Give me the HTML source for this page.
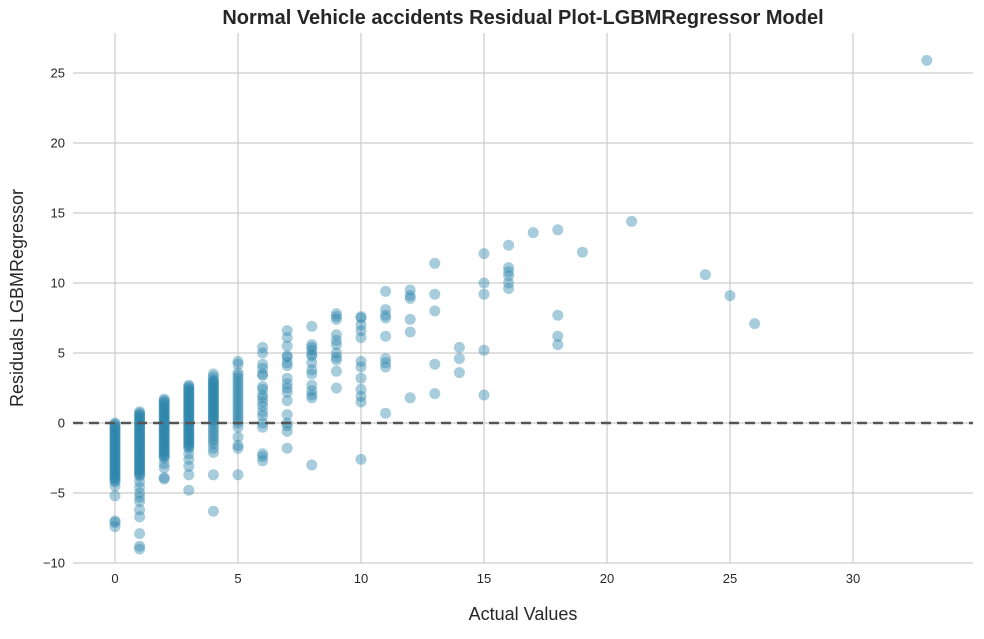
<!DOCTYPE html>
<html><head><meta charset="utf-8"><style>
body{margin:0;background:#fff;font-family:"Liberation Sans",Arial,sans-serif}
svg text{font-family:"Liberation Sans",Arial,sans-serif}
</style></head><body>
<svg id="chart" width="984" height="634" viewBox="0 0 984 634" xmlns="http://www.w3.org/2000/svg">
<text x="523" y="24" text-anchor="middle" font-size="20" font-weight="bold" fill="#262626">Normal Vehicle accidents Residual Plot-LGBMRegressor Model</text>
<g id="grid"></g>
<g id="points"></g>
<g id="axes"></g>
<text x="523" y="620" text-anchor="middle" font-size="18" fill="#262626">Actual Values</text>
<text transform="translate(23,298) rotate(-90)" text-anchor="middle" font-size="18" fill="#262626">Residuals LGBMRegressor</text>
</svg>
<script>
const xTicks=[0,5,10,15,20,25,30];
const yTicks=[-10,-5,0,5,10,15,20,25];
const yTickLabels=["\u221210","\u22125","0","5","10","15","20","25"];
const col0=[0,-0.1,-0.2,-0.3,-0.4,-0.5,-0.6,-0.7,-0.8,-0.9,-1,-1.1,-1.2,-1.3,-1.4,-1.5,-1.6,-1.7,-1.8,-1.9,-2,-2.1,-2.2,-2.3,-2.4,-2.5,-2.6,-2.7,-2.8,-2.9,-3,-3.1,-3.2,-3.3,-3.4,-3.5,-3.6,-3.7,-3.8,-3.9,-4,-4.1,-4.2,-4.5,-5.2,-7,-7.1,-7.4];
const col1=[0.8,0.7,0.6,0.5,0.4,0.3,0.2,0.1,0,-0.1,-0.2,-0.3,-0.4,-0.5,-0.6,-0.7,-0.8,-0.9,-1,-1.1,-1.2,-1.3,-1.4,-1.5,-1.6,-1.7,-1.8,-1.9,-2,-2.1,-2.2,-2.3,-2.4,-2.5,-2.6,-2.7,-2.8,-2.9,-3,-3.1,-3.2,-3.3,-3.4,-3.5,-3.6,-3.7,-3.8,-4.2,-4.6,-5,-5.3,-5.6,-6.2,-6.7,-7.9,-8.8,-9];
const col2=[1.7,1.6,1.5,1.4,1.3,1.2,1.1,1,0.9,0.8,0.7,0.6,0.5,0.4,0.3,0.2,0.1,0,-0.1,-0.2,-0.3,-0.4,-0.5,-0.6,-0.7,-0.8,-0.9,-1,-1.1,-1.2,-1.3,-1.4,-1.5,-1.6,-1.7,-1.8,-1.9,-2,-2.1,-2.2,-2.3,-2.4,-2.5,-2.9,-3.2,-3.9,-4];
const col3=[2.7,2.6,2.5,2.4,2.3,2.2,2.1,2,1.9,1.8,1.7,1.6,1.5,1.4,1.3,1.2,1.1,1,0.9,0.8,0.7,0.6,0.5,0.4,0.3,0.2,0.1,0,-0.1,-0.2,-0.3,-0.4,-0.5,-0.6,-0.7,-0.8,-0.9,-1,-1.1,-1.2,-1.3,-1.4,-1.5,-1.6,-1.7,-1.8,-2.2,-2.6,-3.1,-3.7,-4.8];
const col4=[3.5,3.3,3.1,3,2.9,2.8,2.7,2.6,2.5,2.4,2.3,2.2,2.1,2,1.9,1.8,1.7,1.6,1.5,1.4,1.3,1.2,1.1,1,0.9,0.8,0.7,0.6,0.5,0.4,0.3,0.2,0.1,-0.1,-0.3,-0.5,-0.7,-0.9,-1.1,-1.3,-1.5,-1.8,-2.1,-3.7,-6.3];
const col5=[4.4,4.2,3.6,3.4,3.2,3,2.8,2.6,2.4,2.2,2,1.8,1.6,1.4,1.2,1,0.8,0.6,0.4,0.2,0,-0.3,-1,-1.6,-1.8,-3.7];
const col6=[5.4,5,4.2,3.9,3.5,3.4,2.6,2.4,2,1.8,1.5,1.2,0.8,0.5,0,-0.3,-2.2,-2.4,-2.7];
const col7=[6.6,6.1,5.5,4.8,4.7,4.3,4.1,3.2,2.8,2.5,2.2,1.6,0.6,0,-0.2,-0.6,-1.8];
const col8=[6.9,5.6,5.4,5.2,4.9,4.8,4.3,3.8,3.5,2.7,2.3,2,1.8,-3];
const col9=[7.8,7.6,7.4,6.3,5.9,5.6,5,4.7,4.5,3.7,2.5];
const col10=[7.6,7.5,7,6.6,6.1,4.4,4,3.2,2.4,1.9,1.5,-2.6];
const col11=[9.4,8.1,7.7,7.5,6.2,4.6,4.3,4,0.7];
const col12=[9.5,9.1,8.9,7.4,6.5,1.8];
const col13=[11.4,9.2,8,4.2,2.1];
const col14=[5.4,4.6,3.6];
const col15=[12.1,10,9.2,5.2,2];
const col16=[12.7,11.1,10.8,10.5,10,9.6];
const sparseActual=[17,18,18,18,18,19,21,24,25,26,33];
const sparseResidual=[13.6,13.8,7.7,6.2,5.6,12.2,14.4,10.6,9.1,7.1,25.9];
const columns=[col0,col1,col2,col3,col4,col5,col6,col7,col8,col9,col10,col11,col12,col13,col14,col15,col16];

const NS="http://www.w3.org/2000/svg";
const L=73,R=973,T=33,B=563;
const xS=v=>115+v*24.6;
const yS=v=>423-v*14;
function mk(tag,attrs,parent){const e=document.createElementNS(NS,tag);for(const k in attrs)e.setAttribute(k,attrs[k]);parent.appendChild(e);return e;}
const grid=document.getElementById('grid'),pts=document.getElementById('points'),axes=document.getElementById('axes');
xTicks.forEach(t=>{
  const l=mk('line',{x1:xS(t),x2:xS(t),y1:T,y2:B,stroke:'#cccccc','stroke-width':1.2},grid);
  
  
  const tx=mk('text',{x:xS(t),y:B+20,'text-anchor':'middle','font-size':13,fill:'#262626'},axes);
  tx.textContent=t;
  
  
});
yTicks.forEach((t,i)=>{
  const l=mk('line',{x1:L,x2:R,y1:yS(t),y2:yS(t),stroke:'#cccccc','stroke-width':1.2},grid);
  
  
  const tx=mk('text',{x:L-8,y:yS(t)+4.5,'text-anchor':'end','font-size':13,fill:'#262626'},axes);
  tx.textContent=yTickLabels[i];
  
  
});
function dot(x,y){
  const c=mk('circle',{cx:xS(x),cy:yS(y),r:5.5,fill:'#2E86AB','fill-opacity':0.42},pts);
  
  
}
columns.forEach((col,x)=>col.forEach(v=>dot(x,v)));
sparseActual.forEach((x,i)=>dot(x,sparseResidual[i]));
const zl=mk('line',{x1:L,x2:R,y1:yS(0),y2:yS(0),stroke:'#555555','stroke-width':2.5,'stroke-dasharray':'10,6'},axes);


</script>
</body></html>
